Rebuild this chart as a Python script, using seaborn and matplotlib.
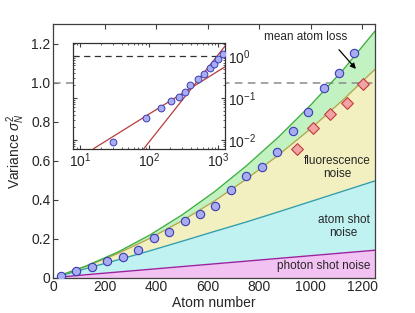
import numpy as np
import pandas as pd
import matplotlib
matplotlib.use("Agg")
import matplotlib.pyplot as plt
import seaborn as sns
from matplotlib.ticker import LogLocator, LogFormatterMathtext, NullFormatter

# ---- data ----
atoms = [30, 90, 150, 210, 270, 330, 390, 450, 510, 570, 630, 690, 750, 810,
         870, 930, 990, 1050, 1110, 1170]
variance = [0.009, 0.034, 0.056, 0.086, 0.103, 0.140, 0.202, 0.236, 0.291, 0.328,
            0.368, 0.450, 0.520, 0.568, 0.646, 0.752, 0.850, 0.974, 1.050, 1.152]
diam_atoms = [945, 1010, 1075, 1140, 1205]
diam_var = [0.658, 0.766, 0.838, 0.894, 0.992]

curve_n = [25, 125, 250, 375, 500, 625, 750, 875, 1000, 1125, 1250]
photon_shot = [0.002, 0.014, 0.028, 0.042, 0.056, 0.070, 0.084, 0.098, 0.112, 0.126, 0.140]
atom_shot = [0.008, 0.045, 0.090, 0.137, 0.186, 0.236, 0.285, 0.337, 0.390, 0.443, 0.496]
fluorescence = [0.010, 0.056, 0.123, 0.201, 0.291, 0.392, 0.505, 0.629, 0.764, 0.911, 1.069]
atom_loss = [0.010, 0.058, 0.130, 0.218, 0.321, 0.439, 0.573, 0.721, 0.885, 1.064, 1.265]

inset_idx = [0, 1, 2, 3, 4, 5, 6, 8, 10, 12, 14, 16, 19]
fit_lin_n = [15.7, 1250]
fit_lin_v = [0.0061, 0.557]
fit_quad_n = [83.6, 1250]
fit_quad_v = [0.0061, 1.74]

xticks = [0, 200, 400, 600, 800, 1000, 1200]
yticks = [0, 0.2, 0.4, 0.6, 0.8, 1.0, 1.2]
ytick_labels = ["0", "0.2", "0.4", "0.6", "0.8", "1.0", "1.2"]

# ---- style ----
sns.set_style("ticks")
plt.rcParams['font.family'] = ['Liberation Sans', 'DejaVu Sans']
plt.rcParams['mathtext.fontset'] = 'custom'
plt.rcParams['mathtext.rm'] = 'Liberation Sans'
plt.rcParams['mathtext.it'] = 'Liberation Sans:italic'
plt.rcParams['mathtext.bf'] = 'Liberation Sans:bold'
plt.rcParams['xtick.direction'] = 'in'
plt.rcParams['ytick.direction'] = 'in'

df_pts = pd.DataFrame({"n": atoms, "v": variance})
df_dia = pd.DataFrame({"n": diam_atoms, "v": diam_var})
df_cur = pd.DataFrame({"n": curve_n, "ph": photon_shot, "at": atom_shot,
                       "fl": fluorescence, "lo": atom_loss})

fig = plt.figure(figsize=(4.15, 3.13), dpi=100)
ax = fig.add_axes([0.1285, 0.1134, 0.7751, 0.809])

c_mag, c_mag_l = "#f2c2f2", "#a020a0"
c_cy, c_cy_l = "#c0f2f2", "#30a0b0"
c_ye, c_ye_l = "#f2f0c0", "#b8a850"
c_gr, c_gr_l = "#c2f2c2", "#40b040"

ax.fill_between(df_cur.n, 0, df_cur.ph, color=c_mag, lw=0, zorder=1)
ax.fill_between(df_cur.n, df_cur.ph, df_cur["at"], color=c_cy, lw=0, zorder=1)
ax.fill_between(df_cur.n, df_cur["at"], df_cur.fl, color=c_ye, lw=0, zorder=1)
ax.fill_between(df_cur.n, df_cur.fl, df_cur.lo, color=c_gr, lw=0, zorder=1)
sns.lineplot(data=df_cur, x="n", y="ph", color=c_mag_l, lw=1, ax=ax, zorder=2)
sns.lineplot(data=df_cur, x="n", y="at", color=c_cy_l, lw=1, ax=ax, zorder=2)
sns.lineplot(data=df_cur, x="n", y="fl", color=c_ye_l, lw=1, ax=ax, zorder=2)
sns.lineplot(data=df_cur, x="n", y="lo", color=c_gr_l, lw=1, ax=ax, zorder=2)

ax.axhline(1.0, color="#8c8c8c", lw=1.1, ls=(0, (5, 3.5)), zorder=1.5)

sns.scatterplot(data=df_pts, x="n", y="v", ax=ax, s=36, marker="o",
                color="#a8acf0", edgecolor="#3c3cb4", linewidth=0.8, zorder=4)
sns.scatterplot(data=df_dia, x="n", y="v", ax=ax, s=36, marker="D",
                color="#f2a4a4", edgecolor="#c03c3c", linewidth=0.8, zorder=4)

ax.set_xlim(0, 1250)
ax.set_ylim(0, 1.3)
ax.set_xticks(xticks)
ax.set_yticks(yticks)
ax.set_yticklabels(ytick_labels)
ax.tick_params(labelsize=10, length=3.5, width=0.8, top=True, right=True,
               color="#404040", pad=2)
for s in ax.spines.values():
    s.set_color("#404040")
    s.set_linewidth(0.9)
ax.set_xlabel("Atom number", fontsize=10, labelpad=1)
ax.set_ylabel(r"Variance $\sigma_N^2$", fontsize=10, labelpad=3)

ax.text(979, 1.233, "mean atom loss", fontsize=8.5, ha="center", va="center", zorder=5)
ax.annotate("", xy=(1183, 1.06), xytext=(1103, 1.18),
            arrowprops=dict(arrowstyle="-|>", color="black", lw=0.9,
                            mutation_scale=8), zorder=5)
ax.text(1104, 0.566, "fluorescence\nnoise", fontsize=8.5, ha="center", va="center",
        linespacing=1.15, zorder=5)
ax.text(1128, 0.263, "atom shot\nnoise", fontsize=8.5, ha="center", va="center",
        linespacing=1.15, zorder=5)
ax.text(1051, 0.059, "photon shot noise", fontsize=8.5, ha="center", va="center",
        zorder=5)

# ---- inset ----
ins = fig.add_axes([0.1766, 0.524, 0.3656, 0.3396])
ins.set_facecolor("white")
ins.set_zorder(6)
df_in = df_pts.iloc[inset_idx]
sns.lineplot(x=fit_lin_n, y=fit_lin_v, color="#b83c3c", lw=0.9, ax=ins)
sns.lineplot(x=fit_quad_n, y=fit_quad_v, color="#b83c3c", lw=0.9, ax=ins)
ins.axhline(1.0, color="#303030", lw=0.9, ls=(0, (5, 3.5)))
sns.scatterplot(data=df_in, x="n", y="v", ax=ins, s=24, marker="o",
                color="#a8acf0", edgecolor="#3c3cb4", linewidth=0.7, zorder=4)
ins.set_xscale("log")
ins.set_yscale("log")
ins.set_xlim(8, 1250)
ins.set_ylim(0.006, 2.1)
ins.xaxis.set_major_locator(LogLocator(base=10, numticks=10))
ins.yaxis.set_major_locator(LogLocator(base=10, numticks=10))
ins.xaxis.set_major_formatter(LogFormatterMathtext())
ins.yaxis.set_major_formatter(LogFormatterMathtext())
ins.xaxis.set_minor_formatter(NullFormatter())
ins.yaxis.set_minor_formatter(NullFormatter())
ins.yaxis.tick_right()
ins.tick_params(which="both", direction="in", top=True, left=True, right=True,
                labelleft=False, labelright=True, color="#404040")
ins.tick_params(which="major", length=3, labelsize=10, pad=2)
ins.tick_params(which="minor", length=1.5)
ins.set_xlabel("")
ins.set_ylabel("")
for s in ins.spines.values():
    s.set_color("#303030")
    s.set_linewidth(0.9)

fig.savefig("out.png", dpi=100)
